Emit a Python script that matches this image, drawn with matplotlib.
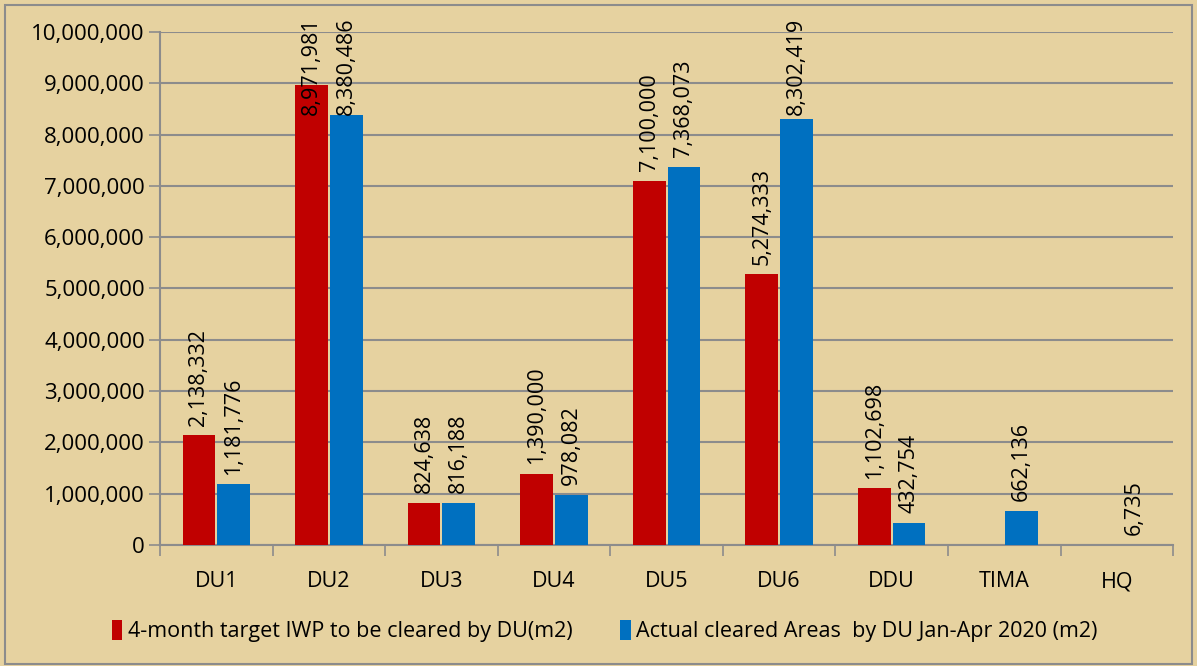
"""Recreate the DU clearance bar chart (target vs actual, Jan-Apr 2020)."""

import numpy as np
import matplotlib
matplotlib.use('Agg')
import matplotlib.pyplot as plt
from matplotlib.ticker import FuncFormatter, FixedLocator
from matplotlib.patches import Rectangle

# --- Data ---
units = ['DU1', 'DU2', 'DU3', 'DU4', 'DU5', 'DU6', 'DDU', 'TIMA', 'HQ']
target = [2138332, 8971981, 824638, 1390000, 7100000, 5274333, 1102698, np.nan, np.nan]
actual = [1181776, 8380486, 816188, 978082, 7368073, 8302419, 432754, 662136, 6735]
target_name = '4-month target IWP to be cleared by DU(m2)'
actual_name = 'Actual cleared Areas  by DU Jan-Apr 2020 (m2)'

BG = '#E6D2A0'
RED = '#C00000'
BLUE = '#0070C0'
GRID = '#8C8C8C'

plt.rcParams['font.family'] = ['Open Sans', 'DejaVu Sans']

fig = plt.figure(figsize=(11.97, 6.66), dpi=100, facecolor=BG)
ax = fig.add_axes([0.1337, 0.1817, 0.9800 - 0.1337, 0.952 - 0.1817])
ax.set_facecolor(BG)

x = np.arange(len(units))
w = 0.29
off = 0.154
ax.bar(x - off, target, w, color=RED, label=target_name, zorder=3)
ax.bar(x + off, actual, w, color=BLUE, label=actual_name, zorder=3)

# value labels, rotated; Excel pushes the tall ones down to fit the chart area
cap = 8.2e6
for xs, vals in ((x - off, target), (x + off, actual)):
    for xi, v in zip(xs, vals):
        if np.isnan(v):
            continue
        ax.annotate(f'{int(v):,}', (xi, min(v, cap)), xytext=(0, 7),
                    textcoords='offset points', rotation=90, ha='center',
                    va='bottom', fontsize=15.5, color='black', zorder=4,
                    annotation_clip=False)

ax.set_ylim(0, 10_000_000)
ax.set_xlim(-0.5, len(units) - 0.5)
ax.set_yticks(np.arange(0, 10_000_001, 1_000_000))
ax.yaxis.set_major_formatter(FuncFormatter(lambda v, p: f'{int(v):,}'))
ax.tick_params(axis='y', labelsize=16, length=8, width=1.2, color=GRID, pad=3)

ax.set_xticks(x)
ax.set_xticklabels(units)
ax.xaxis.set_minor_locator(FixedLocator(np.arange(-0.5, len(units), 1.0)))
ax.tick_params(axis='x', which='major', length=0, labelsize=15.5, pad=19)
ax.tick_params(axis='x', which='minor', length=8, width=1.2, color=GRID)

ax.grid(axis='y', color=GRID, linewidth=1.5, zorder=0)
for side in ('top', 'right'):
    ax.spines[side].set_visible(False)
for side in ('left', 'bottom'):
    ax.spines[side].set_color(GRID)
    ax.spines[side].set_linewidth(1.5)

fig.legend(loc='center', bbox_to_anchor=(0.505, 0.052), ncol=2, frameon=False,
           fontsize=15.5, handlelength=0.5, handleheight=1.0,
           handletextpad=0.25, columnspacing=2.2)

# outer chart border
fig.patches.append(Rectangle((0.004, 0.003), 0.992, 0.990, transform=fig.transFigure,
                             fill=False, edgecolor='#8C8C8C', linewidth=1.5))

fig.savefig('out.png', dpi=100, facecolor=BG)
